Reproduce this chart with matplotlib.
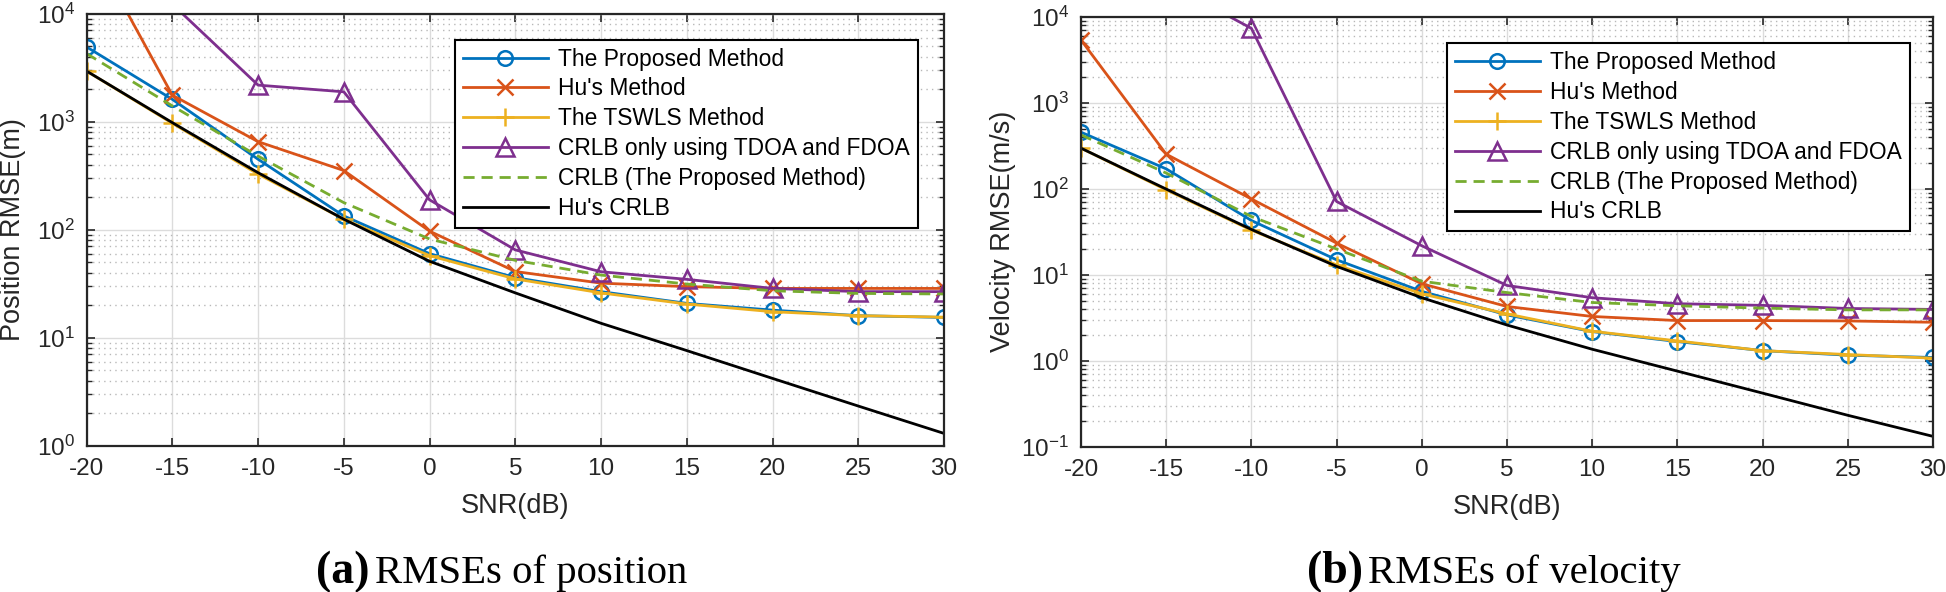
import matplotlib
matplotlib.use("Agg")
import matplotlib.pyplot as plt
from matplotlib.ticker import LogLocator, LogFormatterMathtext, NullFormatter

plt.rcParams["font.family"] = ["Liberation Sans", "DejaVu Sans"]
plt.rcParams["mathtext.fontset"] = "custom"
plt.rcParams["mathtext.rm"] = "Liberation Sans"
plt.rcParams["mathtext.it"] = "Liberation Sans:italic"
plt.rcParams["mathtext.bf"] = "Liberation Sans:bold"

# ---- data ----
snr = [-20, -15, -10, -5, 0, 5, 10, 15, 20, 25, 30]

labels = ["The Proposed Method", "Hu's Method", "The TSWLS Method",
          "CRLB only using TDOA and FDOA", "CRLB (The Proposed Method)",
          "Hu's CRLB"]

pos_proposed = [4920, 1610, 449, 134, 60, 36, 26.7, 20.8, 18, 16, 15.4]
pos_hu = [50000, 1760, 653, 353, 97, 41, 32, 29.7, 28.6, 28.6, 28.6]
pos_tswls = [2940, 966, 327, 125, 57.5, 35, 26, 20.5, 17.4, 16, 15.5]
pos_crlb_td = [80000, 12250, 2180, 1890, 189, 65, 40.8, 34.7, 28.6, 26.7, 26.7]
pos_crlb_prop = [4270, 1400, 480, 178, 82, 52, 38, 31.4, 27.2, 25.7, 25.4]
pos_hu_crlb = [2940, 980, 337, 125, 51, 26, 13.6, 7.6, 4.2, 2.33, 1.3]

vel_proposed = [454, 170, 42.7, 14.9, 6.4, 3.41, 2.18, 1.67, 1.31, 1.16, 1.09]
vel_hu = [5360, 252, 76, 23.3, 7.85, 4.27, 3.27, 2.93, 2.93, 2.9, 2.8]
vel_tswls = [296, 97, 33, 13, 6.0, 3.5, 2.2, 1.7, 1.31, 1.18, 1.07]
vel_crlb_td = [200000, 25000, 7320, 71, 21.7, 7.5, 5.4, 4.6, 4.4, 4.05, 3.95]
vel_crlb_prop = [422, 152, 47.5, 19.9, 8.4, 6.2, 4.75, 4.35, 4.09, 3.9, 3.9]
vel_hu_crlb = [296, 99, 33.6, 12.5, 5.4, 2.6, 1.36, 0.757, 0.42, 0.232, 0.132]

# MATLAB default colour order
BLUE, ORANGE, YELLOW = "#0072BD", "#D95319", "#EDB120"
PURPLE, GREEN, AXC = "#7E2F8E", "#77AC30", "#262626"

TICK_FS = 17.5
LABEL_FS = 19.5
LEG_FS = 16.4


def _panel(ax, series, ylim, ylabel, ylab_x, leg_anchor):
    p, h, t, td, cp, hc = series
    lw, mew = 2.0, 1.8
    ax.plot(snr, p, color=BLUE, lw=lw, marker="o", ms=10.5, mfc="none", mew=mew)
    ax.plot(snr, h, color=ORANGE, lw=lw, marker="x", ms=11, mew=mew)
    ax.plot(snr, t, color=YELLOW, lw=lw, marker="+", ms=13, mew=mew)
    ax.plot(snr, td, color=PURPLE, lw=lw, marker="^", ms=13, mfc="none", mew=mew)
    ax.plot(snr, cp, color=GREEN, lw=lw, ls=(0, (4, 2.5)))
    ax.plot(snr, hc, color="k", lw=lw)

    ax.set_yscale("log")
    ax.set_xlim(-20, 30)
    ax.set_ylim(*ylim)
    ax.set_xticks(range(-20, 31, 5))
    ax.set_xticklabels([str(v) for v in range(-20, 31, 5)])
    ax.yaxis.set_major_locator(LogLocator(base=10, numticks=12))
    ax.yaxis.set_major_formatter(LogFormatterMathtext())
    ax.yaxis.set_minor_locator(LogLocator(base=10, subs=range(2, 10), numticks=12))
    ax.yaxis.set_minor_formatter(NullFormatter())

    ax.grid(True, which="major", color="#dcdcdc", lw=1.0, ls="-")
    ax.grid(True, which="minor", axis="y", color="#b8b8b8", lw=1.0, ls=(0, (1, 3)))
    ax.set_axisbelow(True)

    ax.tick_params(which="both", direction="in", top=True, right=True,
                   colors=AXC, labelsize=TICK_FS, pad=8.5)
    ax.tick_params(which="major", length=6, width=1.2)
    ax.tick_params(which="minor", length=3.5, width=1.0)
    for s in ax.spines.values():
        s.set_color(AXC)
        s.set_linewidth(1.6)

    ax.set_xlabel("SNR(dB)", fontsize=LABEL_FS, color=AXC)
    ax.xaxis.set_label_coords(0.5, -0.14)
    ax.xaxis.label.set_va("center")
    ax.set_ylabel(ylabel, fontsize=LABEL_FS, color=AXC)
    ax.yaxis.set_label_coords(ylab_x, 0.5)
    ax.yaxis.label.set_va("center")

    leg = ax.legend(labels, loc="upper left", bbox_to_anchor=leg_anchor,
                    fontsize=LEG_FS, frameon=True, fancybox=False,
                    edgecolor="k", framealpha=1, borderaxespad=0,
                    handlelength=3.7, handletextpad=0.45, labelspacing=0.3,
                    borderpad=0.35)
    leg.get_frame().set_linewidth(1.5)
    for txt in leg.get_texts():
        txt.set_color("k")


fig = plt.figure(figsize=(19.46, 5.92), dpi=100)
ax1 = fig.add_axes([0.0445, 0.2471, 0.4406, 0.7298])
ax2 = fig.add_axes([0.5555, 0.2454, 0.4378, 0.7264])

_panel(ax1, [pos_proposed, pos_hu, pos_tswls, pos_crlb_td, pos_crlb_prop, pos_hu_crlb],
       (1, 1e4), "Position RMSE(m)", -0.0857, (0.43, 0.94))
_panel(ax2, [vel_proposed, vel_hu, vel_tswls, vel_crlb_td, vel_crlb_prop, vel_hu_crlb],
       (0.1, 1e4), "Velocity RMSE(m/s)", -0.092, (0.43, 0.938))

# sub-figure captions: bold tag + plain text, in Times-like serif
captions = [("(a)", "RMSEs of position", 369, 375), ("(b)", "RMSEs of velocity", 1363, 1368)]
for tag, name, x_tag, x_name in captions:
    fig.text(x_tag / 1946, 0.015, tag, ha="right", va="baseline",
             family="Liberation Serif", fontweight="bold", fontsize=33)
    fig.text(x_name / 1946, 0.015, name, ha="left", va="baseline",
             family="Liberation Serif", fontsize=29.3)

fig.savefig("out.png", dpi=100)
